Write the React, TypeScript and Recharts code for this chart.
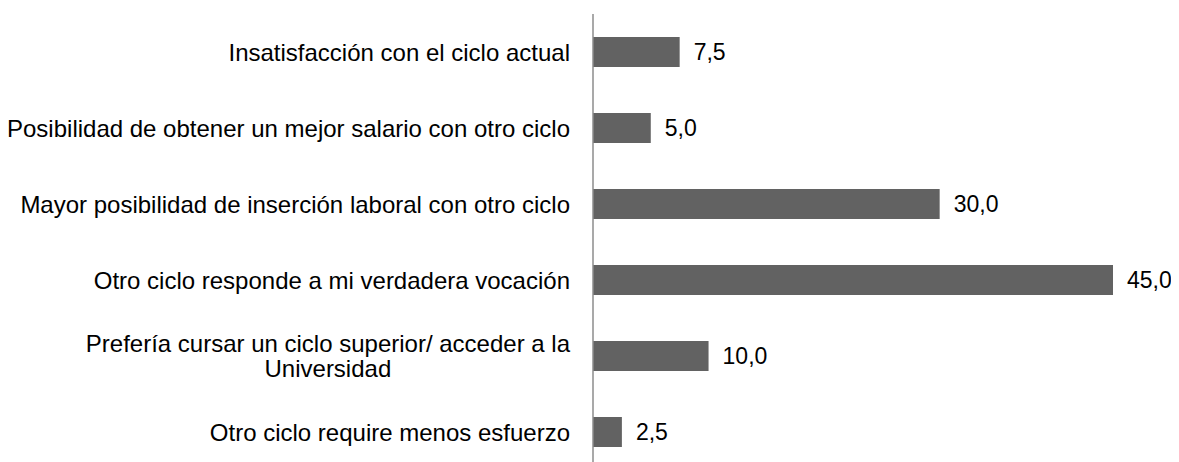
import { BarChart, Bar, XAxis, YAxis, LabelList } from 'recharts';

const categories = [
  'Insatisfacción con el ciclo actual',
  'Posibilidad de obtener un mejor salario con otro ciclo',
  'Mayor posibilidad de inserción laboral con otro ciclo',
  'Otro ciclo responde a mi verdadera vocación',
  'Prefería cursar un ciclo superior/ acceder a la\nUniversidad',
  'Otro ciclo require menos esfuerzo',
];
const values = [7.5, 5.0, 30.0, 45.0, 10.0, 2.5];

const data = categories.map((name, i) => ({ name, value: values[i] }));

const FONT = '"Liberation Sans", Arial, sans-serif';
const TICK_SIZE = 24;
const LINE_H = 25;

let ctx: CanvasRenderingContext2D | null = null;
const measure = (s: string) => {
  if (!ctx) ctx = document.createElement('canvas').getContext('2d');
  if (!ctx) return s.length * TICK_SIZE * 0.5;
  ctx.font = `${TICK_SIZE}px "Liberation Sans"`;
  return ctx.measureText(s).width;
};

const CategoryTick = (props: any) => {
  const { x, y, payload } = props;
  const lines: string[] = String(payload.value).split('\n');
  const blockW = Math.max(...lines.map(measure));
  const cx = lines.length > 1 ? x - blockW / 2 : x;
  const anchor = lines.length > 1 ? 'middle' : 'end';
  const first = y - ((lines.length - 1) * LINE_H) / 2;
  return (
    <g>
      {lines.map((l, i) => (
        <text key={i} x={cx} y={first + i * LINE_H} dy="0.355em" textAnchor={anchor}
          fontSize={TICK_SIZE} fontFamily={FONT} fill="#000">
          {l}
        </text>
      ))}
    </g>
  );
};

const fmt = (v: any) => Number(v).toFixed(1).replace('.', ',');

export default function App() {
  return (
    <div style={{ width: 1171, height: 462 }}>
      <BarChart width={1171} height={462} data={data} layout="vertical"
        margin={{ top: 6, right: 66, bottom: 0, left: 0 }} barSize={30}>
        <XAxis type="number" hide domain={[0, 45]} />
        <YAxis type="category" dataKey="name" width={585} tickLine={false} tickSize={0} tickMargin={23}
          axisLine={{ stroke: '#8c8c8c', strokeWidth: 1.5 }} tick={<CategoryTick />} interval={0} />
        <Bar dataKey="value" fill="#626262" isAnimationActive={false}>
          <LabelList dataKey="value" position="right" offset={14} formatter={fmt}
            style={{ fontSize: 23, fontFamily: FONT, fill: '#000' }} />
        </Bar>
      </BarChart>
    </div>
  );
}
